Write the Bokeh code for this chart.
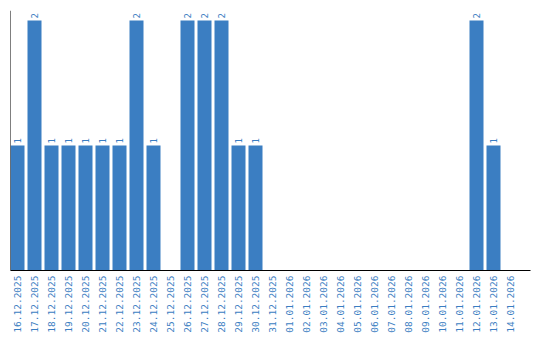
import math
from bokeh.plotting import figure
from bokeh.models import ColumnDataSource, FixedTicker, Range1d, Span
from bokeh.core.properties import value
from bokeh.embed import file_html
from bokeh.resources import INLINE

dates = ["16.12.2025", "17.12.2025", "18.12.2025", "19.12.2025", "20.12.2025",
         "21.12.2025", "22.12.2025", "23.12.2025", "24.12.2025", "25.12.2025",
         "26.12.2025", "27.12.2025", "28.12.2025", "29.12.2025", "30.12.2025",
         "31.12.2025", "01.01.2026", "02.01.2026", "03.01.2026", "04.01.2026",
         "05.01.2026", "06.01.2026", "07.01.2026", "08.01.2026", "09.01.2026",
         "10.01.2026", "11.01.2026", "12.01.2026", "13.01.2026", "14.01.2026"]
counts = [1, 2, 1, 1, 1, 1, 1, 2, 1, 0,
          2, 2, 2, 1, 1, 0, 0, 0, 0, 0,
          0, 0, 0, 0, 0, 0, 0, 2, 1, 0]

BLUE = "#3b7ec2"
xs = list(range(len(dates)))
src = ColumnDataSource(dict(x=xs, top=counts))
lab_x = [i for i, c in zip(xs, counts) if c > 0]
lab_y = [c for c in counts if c > 0]
lab_t = [str(c) for c in counts if c > 0]
lsrc = ColumnDataSource(dict(x=lab_x, y=lab_y, t=lab_t))

bw = 14 / 17
p = figure(frame_width=520, frame_height=260, output_backend="svg", toolbar_location=None,
           x_range=Range1d(-bw / 2, -bw / 2 + 520 / 17), y_range=Range1d(0, 2.08),
           min_border_left=10, min_border_top=10, min_border_right=10, min_border_bottom=0)
p.vbar(x="x", top="top", width=bw, bottom=0, source=src, color=BLUE, line_color=None)
p.text(x="x", y="y", text="t", source=lsrc, angle=math.pi / 2, y_offset=-2,
       text_align="left", text_baseline="middle", text_color=BLUE,
       text_font=value("DejaVu Sans Mono"), text_font_size="9px")

p.yaxis.visible = False
p.add_layout(Span(location=-bw / 2, dimension="height", line_color="black", line_width=1))
p.xgrid.visible = False
p.ygrid.visible = False
p.outline_line_color = None
ax = p.xaxis[0]
ax.ticker = FixedTicker(ticks=xs)
ax.major_label_overrides = {i: d for i, d in zip(xs, dates)}
ax.major_label_orientation = math.pi / 2
ax.major_tick_line_color = None
ax.minor_tick_line_color = None
ax.major_tick_out = 0
ax.major_tick_in = 0
ax.minor_tick_out = 0
ax.axis_line_color = "black"
ax.major_label_text_color = BLUE
ax.major_label_text_font = "DejaVu Sans Mono"
ax.major_label_text_font_size = "9.5px"
ax.major_label_standoff = 5

open("out.html", "w").write(file_html(p, INLINE))
